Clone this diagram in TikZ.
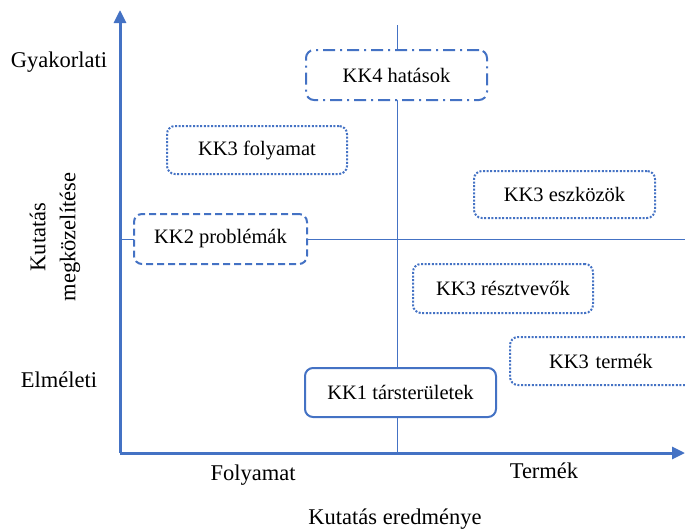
\documentclass[tikz,border=0pt]{standalone}
\usepackage{fontspec}
\setmainfont{Liberation Serif}
\usetikzlibrary{arrows.meta}
\definecolor{axisblue}{HTML}{4472C4}
\begin{document}
\begin{tikzpicture}[x=1pt,y=-1pt,
  every node/.style={text=black},
  boxtext/.style={font=\fontsize{20.5}{24}\selectfont},
  label/.style={font=\fontsize{22.5}{30}\selectfont},
  box/.style={boxtext, draw=axisblue, line width=2pt, rounded corners=8pt, fill=white, inner sep=0pt},
  axis/.style={draw=axisblue, line width=3pt, -{Triangle[length=13pt,width=12pt]}},
  guide/.style={draw=axisblue, line width=1pt},
  dotline/.style={dash pattern=on 2pt off 1.6pt},
  dashline/.style={dash pattern=on 7pt off 4pt},
  dashdotline/.style={dash pattern=on 12pt off 5pt on 2pt off 5pt},
]
\useasboundingbox (0,0) rectangle (685,530);

% axes and quadrant guides
\coordinate (origin) at (120,453);
\coordinate (ytip) at (120,10);
\coordinate (xtip) at (685,453);
\coordinate (vtop) at (397,25);
\coordinate (vbot) at (397,453);
\coordinate (hleft) at (120,239);
\coordinate (hright) at (685,239);

\draw[guide] (vtop) -- (vbot);
\draw[guide] (hleft) -- (hright);
\draw[axis] (origin) -- (ytip);
\draw[axis] (origin) -- (xtip);

% boxes
\node[box, dashdotline, minimum width=181pt, minimum height=50pt] (kk4) at (396.5,75) {KK4 hatások};
\node[box, dotline, minimum width=180pt, minimum height=48pt] (kk3f) at (257,150) {KK3 folyamat};
\node[box, dotline, minimum width=181pt, minimum height=47pt] (kk3e) at (564.5,194.5) {KK3 eszközök};
\node[box, dashline, minimum width=173pt, minimum height=50pt] (kk2) at (220.5,239) {KK2 problémák};
\node[box, dotline, minimum width=180pt, minimum height=49pt] (kk3r) at (503,288.5) {KK3 résztvevők};
\node[box, dotline, minimum width=190pt, minimum height=48pt, text width=170pt, align=left] (kk3t) at (605,361) {\hspace*{29pt}KK3 termék};
\node[box, minimum width=191pt, minimum height=49pt] (kk1) at (400.5,392.5) {KK1 társterületek};

% axis labels
\node[label] (gyak) at (59,62) {Gyakorlati};
\node[label] (elm) at (59,380) {Elméleti};
\node[label, rotate=90, align=center] (yname) at (55,237) {Kutatás\\megközelítése};
\node[label] (foly) at (253,475) {Folyamat};
\node[label] (term) at (544,471) {Termék};
\node[label] (xname) at (395,519) {Kutatás eredménye};
\end{tikzpicture}
\end{document}
